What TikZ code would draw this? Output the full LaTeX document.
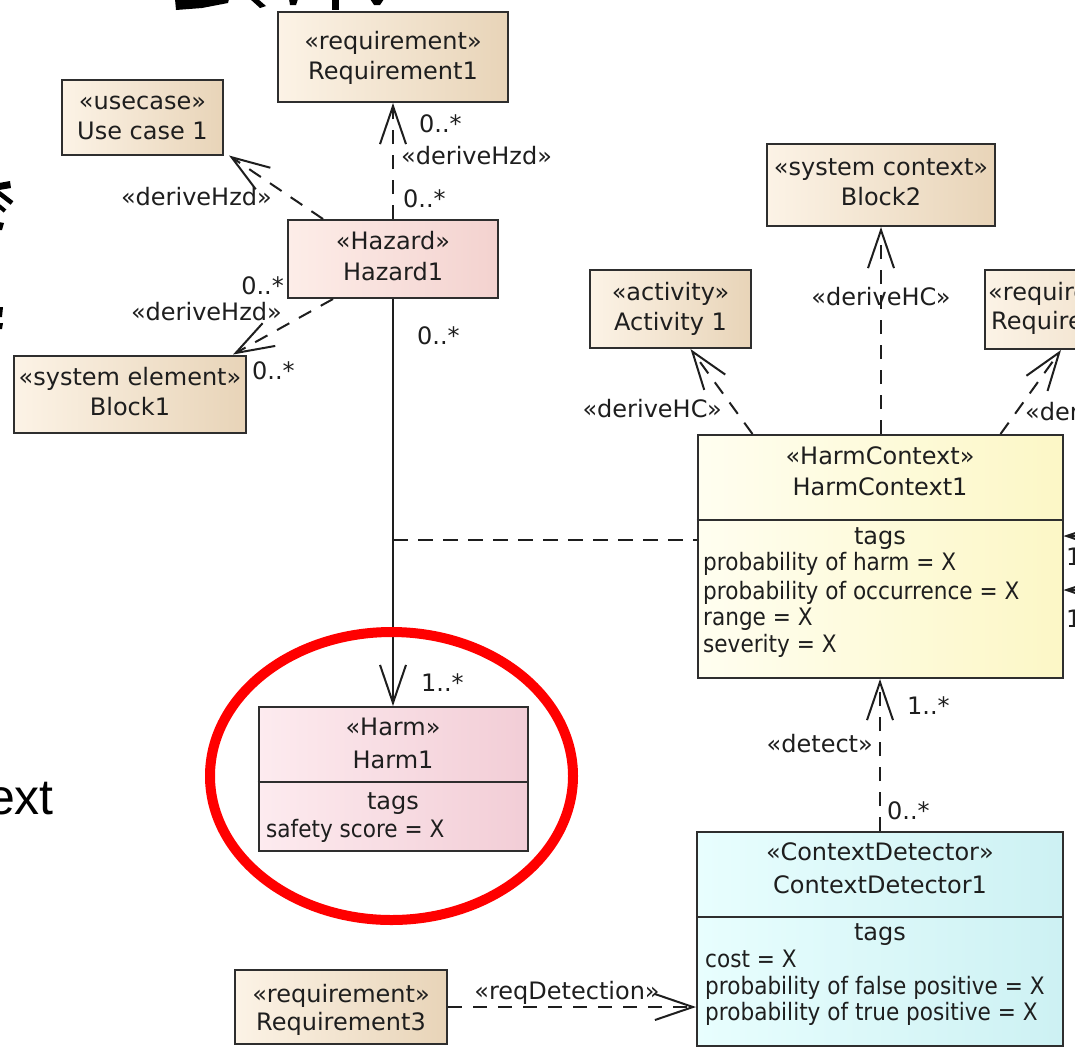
\documentclass[tikz,border=0pt]{standalone}
\usepackage{fontspec}
\setmainfont{DejaVu Sans}
\newfontfamily\tagfont{DejaVu Sans}[FakeStretch=0.9]
\newfontfamily\slidefont{Liberation Sans}
\usetikzlibrary{arrows.meta,calc}

\definecolor{ink}{HTML}{1E1E1E}
\definecolor{frame}{HTML}{2E2E2E}
\definecolor{reqL}{HTML}{FCF3E6}
\definecolor{reqR}{HTML}{E8D4B8}
\definecolor{hazL}{HTML}{FDEDE8}
\definecolor{hazR}{HTML}{F3D2CF}
\definecolor{harmL}{HTML}{FDEBEF}
\definecolor{harmR}{HTML}{F2CDD6}
\definecolor{hcL}{HTML}{FFFEF0}
\definecolor{hcR}{HTML}{FCF7C6}
\definecolor{cdL}{HTML}{E8FEFE}
\definecolor{cdR}{HTML}{CDF1F3}
\definecolor{ringred}{HTML}{FF0000}

\begin{document}
\begin{tikzpicture}[x=1pt,y=-1pt,
  box/.style={draw=frame,line width=2pt,rectangle,inner sep=0pt},
  reqbox/.style={box,left color=reqL,right color=reqR},
  hazbox/.style={box,left color=hazL,right color=hazR},
  harmbox/.style={box,left color=harmL,right color=harmR},
  hcbox/.style={box,left color=hcL,right color=hcR},
  cdbox/.style={box,left color=cdL,right color=cdR},
  hd/.style={font=\fontsize{24}{28}\selectfont,text=ink,inner sep=0pt,anchor=base},
  tg/.style={font=\tagfont\fontsize{24}{28}\selectfont,text=ink,inner sep=0pt,anchor=base west},
  lbl/.style={font=\fontsize{24}{28}\selectfont,text=ink,inner sep=0pt},
  divider/.style={draw=frame,line width=1.8pt},
  barb/.style={-{Straight Barb[length=38pt,width=26pt,line width=2pt]}},
  dep/.style={draw=ink,line width=2pt,dash pattern=on 14pt off 11pt,barb},
  assoc/.style={draw=ink,line width=2pt,barb},
  acl/.style={draw=ink,line width=2pt,dash pattern=on 15pt off 10pt},
  ring/.style={draw=ringred,line width=10pt}
]
\useasboundingbox (0,0) rectangle (1075,1047);
\fill[white] (0,0) rectangle (1075,1047);
\begin{scope}
\clip (0,0) rectangle (1075,1047);

% fragments of large slide lettering along the edges
\fill[black] (175,-1) -- (229,-1) -- (228,3) -- (202,8) -- (176,10) -- cycle;
\fill[black] (250,-1) -- (258,-1) -- (266,6) -- (260,8) -- cycle;
\fill[black] (289,-1) -- (298,-1) -- (296,5) -- (290,5) -- cycle;
\fill[black] (332,-1) -- (339,-1) -- (339,10) -- (332,10) -- cycle;
\fill[black] (370,-1) -- (384,-1) -- (380,5) -- (374,5) -- cycle;
\fill[black] (-1,183) -- (10,181) -- (11,188) -- (-1,190) -- cycle;
\draw[black,line width=4.5pt] (-1,193) -- (12,203);
\draw[black,line width=4pt] (-1,206) -- (5,211);
\fill[black] (-1,222) -- (4,223) -- (2,230) -- (-1,230) -- cycle;
\fill[black] (-1,307) -- (3,307) -- (2,317) -- (-1,317) -- cycle;
\fill[black] (-1,323) -- (3,323) -- (2,329) -- (-1,329) -- cycle;
\node[font=\slidefont\fontsize{50}{56}\selectfont,anchor=base east,inner sep=0pt] (slideword) at (54,814) {ext};

% ---- blocks ----
\node[reqbox,minimum width=230pt,minimum height=90pt] (req1) at (393,57) {};
\node[hd] (req1s) at (393,49) {«requirement»};
\node[hd] (req1n) at (393,79) {Requirement1};

\node[reqbox,minimum width=161pt,minimum height=75pt] (uc) at (142.5,117) {};
\node[hd] (ucs) at (142.5,109) {«usecase»};
\node[hd] (ucn) at (142.5,139) {Use case 1};

\node[hazbox,minimum width=210pt,minimum height=78pt] (haz) at (393,259) {};
\node[hd] (hazs) at (393,249) {«Hazard»};
\node[hd] (hazn) at (393,280) {Hazard1};

\node[reqbox,minimum width=232pt,minimum height=77pt] (blk1) at (130,394) {};
\node[hd] (blk1s) at (130,385) {«system element»};
\node[hd] (blk1n) at (130,415) {Block1};

\node[reqbox,minimum width=228pt,minimum height=82pt] (blk2) at (881,185) {};
\node[hd] (blk2s) at (881,175) {«system context»};
\node[hd] (blk2n) at (881,205) {Block2};

\node[reqbox,minimum width=161pt,minimum height=78pt] (act) at (670.5,309) {};
\node[hd] (acts) at (670.5,300) {«activity»};
\node[hd] (actn) at (670.5,330) {Activity 1};

\node[reqbox,minimum width=230pt,minimum height=79pt] (req2) at (1100,309.5) {};
\node[hd,anchor=base west] (req2s) at (988,300) {«requirement»};
\node[hd,anchor=base west] (req2n) at (991,329) {Requirement2};

% HarmContext with its tag compartment
\node[hcbox,minimum width=365pt,minimum height=243pt] (hc) at (880,556.5) {};
\coordinate (hcdiv) at (0,520);
\draw[divider] (hc.west |- hcdiv) -- (hc.east |- hcdiv);
\node[hd] (hcs) at (880,464) {«HarmContext»};
\node[hd] (hcn) at (880,495) {HarmContext1};
\node[hd] (hct) at (880,544) {tags};
\node[tg] (hc1) at (703,570) {probability of harm = X};
\node[tg] (hc2) at (703,599) {probability of occurrence = X};
\node[tg] (hc3) at (703,625) {range = X};
\node[tg] (hc4) at (703,652) {severity = X};

% Harm with its tag compartment
\node[harmbox,minimum width=269pt,minimum height=144pt] (harm) at (393,779) {};
\coordinate (harmdiv) at (0,782);
\draw[divider] (harm.west |- harmdiv) -- (harm.east |- harmdiv);
\node[hd] (harms) at (393,735) {«Harm»};
\node[hd] (harmn) at (393,768) {Harm1};
\node[hd] (harmt) at (393,809) {tags};
\node[tg] (harm1) at (266,837) {safety score = X};

% ContextDetector with its tag compartment
\node[cdbox,minimum width=366pt,minimum height=214pt] (cd) at (880,939) {};
\coordinate (cddiv) at (0,917);
\draw[divider] (cd.west |- cddiv) -- (cd.east |- cddiv);
\node[hd] (cds) at (880,860) {«ContextDetector»};
\node[hd] (cdn) at (880,893) {ContextDetector1};
\node[hd] (cdt) at (880,940) {tags};
\node[tg] (cd1) at (705,967) {cost = X};
\node[tg] (cd2) at (705,994) {probability of false positive = X};
\node[tg] (cd3) at (705,1020) {probability of true positive = X};

\node[reqbox,minimum width=212pt,minimum height=74pt] (req3) at (341,1007) {};
\node[hd] (req3s) at (341,1002) {«requirement»};
\node[hd] (req3n) at (341,1030) {Requirement3};

% ---- connectors ----
\draw[dep] (haz.north) -- (req1.south);
\draw[dep] ($(haz.north west)+(36,0)$) -- ($(uc.south east)+(5,0)$);
\draw[dep] ($(haz.south west)+(46,0)$) -- ($(blk1.north east)+(-14,0)$);
\draw[assoc] (haz.south) -- (harm.north);
\coordinate (ac) at ($(haz.south)!0.592!(harm.north)$);
\draw[acl] (ac) -- (hc.west |- ac);
\draw[dep] ($(hc.north west)+(56,0)$) -- ($(act.south)+(20,0)$);
\draw[dep] (blk2.south |- hc.north) -- (blk2.south);
\draw[dep] ($(hc.north east)+(-63,0)$) -- ($(req2.south west)+(77,0)$);
\draw[dep] (cd.north) -- (hc.south);
\draw[dep] (req3.east) -- (cd.west |- req3.east);
\coordinate (selfA) at (1095,536);
\coordinate (selfB) at (1095,590);
\draw[assoc] (selfA) -- (hc.east |- selfA);
\draw[assoc] (selfB) -- (hc.east |- selfB);

% ---- connector labels ----
\node[lbl,anchor=base west] (m1) at (419,132) {0..*};
\node[lbl,anchor=base west] (d1) at (401,164) {«deriveHzd»};
\node[lbl,anchor=base west] (m2) at (403,207) {0..*};
\node[lbl,anchor=base east] (d2) at (272,205) {«deriveHzd»};
\node[lbl,anchor=base east] (m3) at (284,294) {0..*};
\node[lbl,anchor=base east] (d3) at (282,320) {«deriveHzd»};
\node[lbl,anchor=base west] (m4) at (252,379) {0..*};
\node[lbl,anchor=base west] (m5) at (417,344) {0..*};
\node[lbl,anchor=base west] (m6) at (421,691) {1..*};
\node[lbl,anchor=base] (d4) at (881,305) {«deriveHC»};
\node[lbl,anchor=base east] (d5) at (722,417) {«deriveHC»};
\node[lbl,anchor=base west] (d6) at (1025,420) {«deriveHC»};
\node[lbl,anchor=base west] (m7) at (907,714) {1..*};
\node[lbl,anchor=base east] (d7) at (873,752) {«detect»};
\node[lbl,anchor=base west] (m8) at (887,819) {0..*};
\node[lbl,anchor=base] (d8) at (567,999) {«reqDetection»};
\node[lbl,anchor=base west] (m9) at (1066,565) {1};
\node[lbl,anchor=base west] (m10) at (1066,627) {1};

% highlight ring around the harm block
\draw[ring] (391.5,776) ellipse [x radius=181.5,y radius=144];
\end{scope}
\end{tikzpicture}
\end{document}
